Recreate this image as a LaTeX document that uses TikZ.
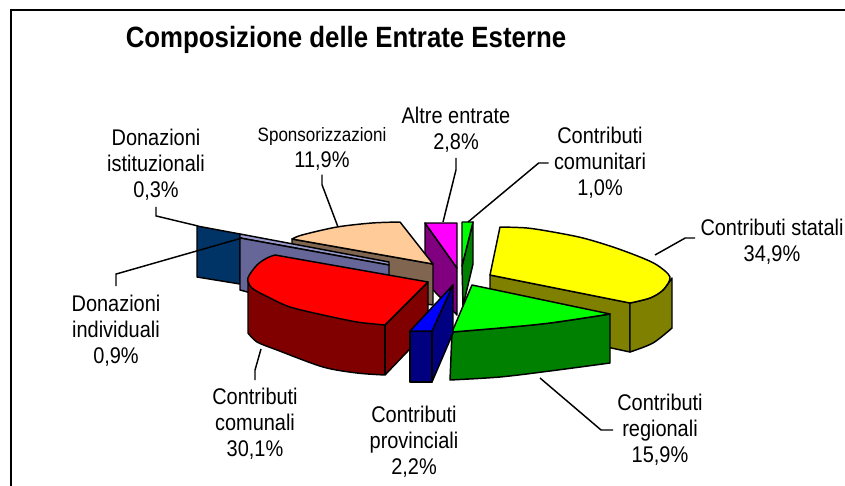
\documentclass[tikz,border=0pt]{standalone}
\usepackage{fontspec}
\setmainfont{Liberation Sans}[FakeStretch=0.88]
\usetikzlibrary{positioning}

\definecolor{statTop}{HTML}{FFFF00}
\definecolor{statSide}{HTML}{808000}
\definecolor{regTop}{HTML}{00FF00}
\definecolor{regSide}{HTML}{008000}
\definecolor{provTop}{HTML}{0000FF}
\definecolor{provSide}{HTML}{000080}
\definecolor{comTop}{HTML}{FF0000}
\definecolor{comSide}{HTML}{800000}
\definecolor{indTop}{HTML}{9999CC}
\definecolor{indSide}{HTML}{666699}
\definecolor{istSide}{HTML}{003366}
\definecolor{sponTop}{HTML}{FFCC99}
\definecolor{sponSide}{HTML}{806650}
\definecolor{altreTop}{HTML}{FF00FF}
\definecolor{altreSide}{HTML}{800080}

\begin{document}
\begin{tikzpicture}[x=0.75pt,y=-0.75pt,
	face/.style={draw=black, line width=1.1pt, line join=round},
	lead/.style={draw=black, line width=1.1pt},
	lbl/.style={align=center, inner sep=0pt, font=\fontsize{17}{19.5}\selectfont}
	]
	\useasboundingbox (0,0) rectangle (845,485);
	\draw[line width=1.6pt] (11,490) -- (11,10) -- (850,10);
	\node[font=\fontsize{22}{24}\selectfont\bfseries] (title) at (346,40) {Composizione delle Entrate Esterne};

	% slices, back to front
	\filldraw[face, fill=altreSide] (425,223) -- (457,268) -- (457,315) -- (436,293) -- (425,281) -- cycle;
	\filldraw[face, fill=altreTop] (425,223) -- (457,223) -- (457,268) -- cycle;
	\filldraw[face, fill=regSide] (473,222) -- (473,264) -- (463,306) -- (462,266) -- cycle;
	\filldraw[face, fill=regTop] (462,222) -- (473,222) -- (462,266) -- cycle;

	\filldraw[face, fill=sponSide] (292,239) -- (433,264) -- (433,305) -- (292,285) -- cycle;
	\filldraw[face, fill=sponTop] plot[smooth] coordinates {(292,239) (302,235) (337,227) (372,223) (400,222)} -- (433,264) -- cycle;

	\filldraw[face, fill=istSide] (197,226) -- (240,234) -- (240,284) -- (197,277) -- cycle;
	\filldraw[face, fill=indTop] (240,234) -- (389,262) -- (389,265) -- (240,238) -- cycle;
	\filldraw[face, fill=indSide] (240,238) -- (389,265) -- (389,330) -- (240,290) -- cycle;

	\filldraw[face, fill=comSide] (248,278) -- (248,333) -- plot[smooth] coordinates {(248,333) (257,342) (277,350) (323,367) (357,373) (385,375)} -- (428,330) -- (428,282) -- (385,325) -- cycle;
	\draw[face] (385,325) -- (385,375);
	\filldraw[face, fill=comTop] (275,255) -- (428,282) -- (385,325) -- plot[smooth] coordinates {(385,325) (357,322) (323,315) (290,307) (270,298) (252,288) (248,278) (257,265) (267,258) (275,255)} -- cycle;

	\filldraw[face, fill=statSide] (490,275) -- (630,303) -- (630,352) -- (490,322) -- cycle;
	\filldraw[face, fill=statSide] (630,303) -- (630,352) -- plot[smooth] coordinates {(630,352) (653,343) (672,328)} -- (672,278) -- plot[smooth] coordinates {(672,278) (663,290) (650,298) (630,303)} -- cycle;
	\filldraw[face, fill=statTop] plot[smooth] coordinates {(500,227) (527,228) (553,232) (583,238) (613,247) (640,257) (657,265) (670,277) (663,290) (650,298) (630,303)} -- (490,275) -- cycle;

	\filldraw[face, fill=regSide] (452,332) -- (450,380) -- plot[smooth] coordinates {(450,380) (500,377) (550,371) (610,363)} -- (610,314) -- plot[smooth] coordinates {(610,314) (550,323) (500,328) (452,332)} -- cycle;
	\filldraw[face, fill=regTop] (472,285) -- (610,314) -- plot[smooth] coordinates {(610,314) (550,323) (500,328) (452,332)} -- cycle;

	\filldraw[face, fill=provSide] (432,331) -- (453,285) -- (453,333) -- (432,382) -- cycle;
	\filldraw[face, fill=provSide] (410,331) -- (432,331) -- (432,382) -- (410,382) -- cycle;
	\filldraw[face, fill=provTop] (453,285) -- (432,331) -- (410,331) -- cycle;

	% leader ends
	\coordinate (pcomu) at (468,222);
	\coordinate (pstat) at (655,255);
	\coordinate (preg) at (540,378);
	\coordinate (pcom) at (261,349);
	\coordinate (pind) at (242,238);
	\coordinate (pist) at (198,226);
	\coordinate (pspon) at (338,227);
	\coordinate (paltre) at (443,222);

	% labels
	\node[lbl] (altre) at (456,130) {Altre entrate\\2,8\%};
	\node[lbl] (spon) at (322,149) {{\fontsize{14.5}{15}\selectfont Sponsorizzazioni}\\11,9\%};
	\node[lbl] (ist) at (156,165) {Donazioni\\istituzionali\\0,3\%};
	\node[lbl] (comu) at (600,163) {Contributi\\comunitari\\1,0\%};
	\node[lbl] (stat) at (772,242) {Contributi statali\\34,9\%};
	\node[lbl] (ind) at (116,331) {Donazioni\\individuali\\0,9\%};
	\node[lbl] (com) at (255,424) {Contributi\\comunali\\30,1\%};
	\node[lbl] (prov) at (414,442) {Contributi\\provinciali\\2,2\%};
	\node[lbl] (reg) at (660,430) {Contributi\\regionali\\15,9\%};

	\draw[lead] (altre.south) ++(0,5) -- ++(0,12) -- (paltre);
	\draw[lead] (spon.south) ++(0,4) -- ++(0,10) -- (pspon);
	\draw[lead] (ist.south) ++(0,6) -- ++(0,9) -- (pist);
	\draw[lead] (comu.west) ++(-5,0) -- ++(-10,0) -- (pcomu);
	\draw[lead] (stat.west) ++(-5,-4) -- ++(-10,0) -- (pstat);
	\draw[lead] (ind.north) ++(0,-9) -- ++(0,-12) -- (pind);
	\draw[lead] (com.north) ++(0,-8) -- ++(0,-10) -- (pcom);
	\draw[lead] (reg.west) ++(-4,0) -- ++(-12,0) -- (preg);
\end{tikzpicture}
\end{document}
